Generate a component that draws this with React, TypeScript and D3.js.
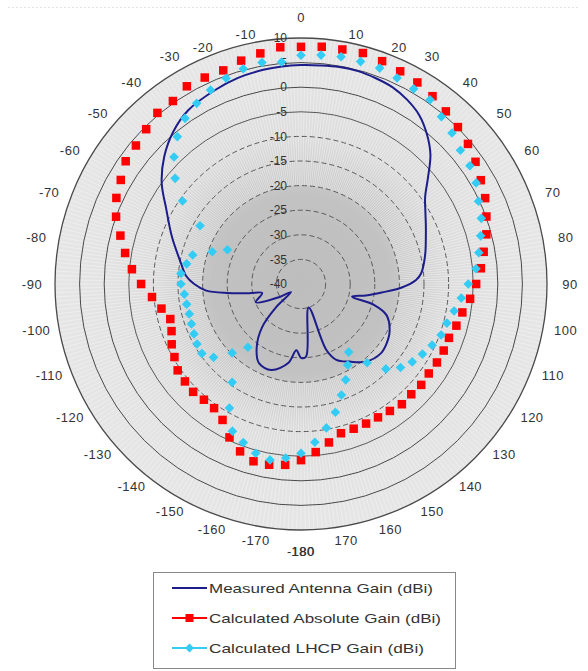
import React, { useEffect, useRef } from "react";
import * as d3 from "d3";

// ---------- DATA ----------
const angleLabels = [
  "0", "10", "20", "30", "40", "50", "60", "70", "80", "90", "100", "110", "120", "130", "140", "150", "160", "170",
  "180", "-170", "-160", "-150", "-140", "-130", "-120", "-110", "-100", "-90", "-80", "-70", "-60", "-50", "-40", "-30", "-20", "-10",
];
const radialTicks = [10, 5, 0, -5, -10, -15, -20, -25, -30, -35, -40];

// Measured antenna gain (dBi), angle in degrees clockwise from 0
const measuredAngles = [
  0, 5, 10, 15, 20, 25, 30, 35, 40, 45, 50, 55, 60, 65, 70, 75, 80, 85, 88, 92, 96, 100, 104, 106, 110, 118, 125, 131,
  140, 148, 155, 159, 162, 176, 180, 184, 189, 199, 208, 215, 222, 227, 231, 239, 248, 257, 260, 263, 266, 270, 274,
  280, 290, 299, 306, 313, 320, 327, 336, 343, 350, 355,
];
const measuredGain = [
  4.5, 4.6, 4.8, 4.8, 4.5, 4.1, 3.2, 1.9, -0.2, -2.8, -6.3, -9.2, -10.8, -12.0, -13.0, -13.8, -14.6, -15.5, -16.6, -19.5,
  -23.5, -26.6, -29.3, -24.5, -21.5, -19.6, -18.8, -18.5, -19.4, -21.4, -23.0, -25.7, -35.0, -25.2, -25.0, -26.5, -23.8,
  -21.5, -21.8, -24.3, -28.2, -33.1, -37.4, -34.8, -30.1, -31.9, -29.3, -25.0, -20.7, -18.3, -16.6, -15.2, -12.1, -8.7,
  -5.0, -2.0, 0.4, 2.1, 3.1, 3.8, 4.2, 4.4,
];

// Calculated series: every 5 degrees
const calcAngles = [
  0, 5, 10, 15, 20, 25, 30, 35, 40, 45, 50, 55, 60, 65, 70, 75, 80, 85, 90, 95, 100, 105, 110, 115, 120, 125, 130, 135,
  140, 145, 150, 155, 160, 165, 170, 175, 180, 185, 190, 195, 200, 205, 210, 215, 220, 225, 230, 235, 240, 245, 250, 255,
  260, 265, 270, 275, 280, 285, 290, 295, 300, 305, 310, 315, 320, 325, 330, 335, 340, 345, 350, 355,
];
const absoluteGain = [
  8.2, 8.4, 8.4, 8.6, 8.2, 7.7, 7.3, 6.6, 5.8, 5.1, 4.3, 3.3, 2.2, 1.3, 0.1, -1.0, -2.3, -3.3, -4.4, -5.5, -6.7, -7.3,
  -8.0, -8.0, -8.1, -8.3, -8.1, -8.3, -8.1, -8.5, -8.7, -8.7, -8.7, -8.6, -7.3, -5.7, -4.2, -3.1, -2.7, -2.7, -3.8, -5.6,
  -8.1, -9.2, -9.3, -9.0, -9.2, -9.4, -10.3, -11.0, -12.0, -12.5, -11.2, -9.6, -7.5, -5.5, -3.7, -2.0, 0.0, 1.4, 2.3,
  3.5, 3.8, 4.5, 5.4, 5.4, 6.4, 6.3, 6.2, 7.0, 7.6, 8.3,
];
const lhcpGain = [
  6.5, 6.7, 6.9, 6.8, 6.7, 6.2, 5.8, 5.7, 4.4, 3.4, 2.3, 1.9, 1.1, -0.2, -1.0, -2.2, -3.3, -4.3, -6.0, -7.3, -8.4, -9.3,
  -9.7, -10.6, -11.5, -12.4, -13.6, -15.6, -19.1, -23.1, -21.0, -18.5, -16.0, -13.0, -10.3, -7.7, -5.6, -4.5, -3.7, -4.4,
  -5.7, -7.0, -10.9, -15.6, -23.2, -20.2, -16.8, -15.4, -15.6, -16.0, -16.3, -16.5, -16.4, -16.2, -15.6, -15.5, -16.4,
  -17.2, -20.8, -23.5, -16.3, -10.6, -6.6, -3.5, -0.9, 1.1, 2.4, 3.5, 4.5, 5.3, 5.7, 5.3,
];

const legendNames = [
  "Measured Antenna Gain (dBi)",
  "Calculated Absolute Gain (dBi)",
  "Calculated LHCP Gain (dBi)",
];

// ---------- CHART ----------
const W = 588;
const H = 671;
const cx = 301;
const cy = 284;
const R = 246;
const FONT = "'Liberation Sans', Arial, sans-serif";
const NAVY = "#1c1c8a";
const RED = "#ff0000";
const CYAN = "#33ccf5";

export default function App() {
  const ref = useRef<SVGSVGElement>(null);

  useEffect(() => {
    const svg = d3.select(ref.current);
    svg.selectAll("*").remove();

    const r = d3.scaleLinear().domain([-40, 10]).range([0, R]);
    const rad = (d: number) => (d * Math.PI) / 180;
    const px = (deg: number, v: number) => cx + r(v) * Math.sin(rad(deg));
    const py = (deg: number, v: number) => cy - r(v) * Math.cos(rad(deg));

    // faint dotted line at the top
    svg.append("line").attr("x1", 8).attr("x2", 580).attr("y1", 7.5).attr("y2", 7.5)
      .attr("stroke", "#e4e4e4").attr("stroke-dasharray", "2,2");

    // plot disc with radial shading (dense spokes converge toward centre)
    const defs = svg.append("defs");
    const grad = defs.append("radialGradient").attr("id", "discGrad")
      .attr("cx", cx).attr("cy", cy).attr("r", R).attr("gradientUnits", "userSpaceOnUse");
    [
      [0, "#bdbdbd"], [0.36, "#c2c2c2"], [0.48, "#cfcfcf"], [0.6, "#dcdcdc"], [0.8, "#e3e3e3"], [1, "#e6e6e6"],
    ].forEach(([o, c]) => grad.append("stop").attr("offset", o as number).attr("stop-color", c as string));
    svg.append("circle").attr("cx", cx).attr("cy", cy).attr("r", R).attr("fill", "url(#discGrad)");

    // spokes (one per degree category) giving the fine texture
    const spokeAngles = d3.range(0, 360, 1);
    svg.append("g").selectAll("line").data(spokeAngles).join("line")
      .attr("x1", (d) => cx + R * 0.4 * Math.sin(rad(d))).attr("y1", (d) => cy - R * 0.4 * Math.cos(rad(d)))
      .attr("x2", (d) => px(d, 10)).attr("y2", (d) => py(d, 10))
      .attr("stroke", "#f6f6f6").attr("stroke-opacity", 0.75).attr("stroke-width", 0.7);

    // rings
    const ringVals = radialTicks.filter((v) => v > -40);
    svg.append("g").selectAll("circle").data(ringVals).join("circle")
      .attr("cx", cx).attr("cy", cy).attr("r", (d) => r(d))
      .attr("fill", "none")
      .attr("stroke", (d) => (d >= 0 ? "#4a4a4a" : "#5a5a5a"))
      .attr("stroke-width", (d) => (d === 10 ? 1.3 : 1))
      .attr("stroke-dasharray", (d) => (d >= -5 ? null : "5,3"));

    // angle labels
    const lg = svg.append("g").attr("font-family", FONT).attr("font-size", 13).attr("fill", "#333");
    angleLabels.forEach((t, i) => {
      const deg = i * 10;
      const s = Math.sin(rad(deg));
      let d = R + 14 + 9 * s * s;
      let a = deg;
      if (deg === 0 || deg === 180) d += 7;
      if (deg === 10 || deg === 20) { a += 2.5; d -= 5; }
      if (deg === 340 || deg === 350) { a -= 2.5; d -= 5; }
      const x = cx + d * Math.sin(rad(a));
      const y = cy - d * Math.cos(rad(a));
      if (t === "180") {
        lg.append("text").attr("x", x).attr("y", y).attr("dy", "0.35em").attr("text-anchor", "middle")
          .attr("letter-spacing", 0.5).text("-180");
        lg.append("text").attr("x", x + 13.5).attr("y", y).attr("dy", "0.35em").attr("text-anchor", "end")
          .attr("letter-spacing", 0.5).text("180");
      } else {
        lg.append("text").attr("x", x).attr("y", y).attr("dy", "0.35em").attr("text-anchor", "middle")
          .attr("letter-spacing", 0.5).text(t);
      }
    });

    // radial axis labels
    const rg = svg.append("g").attr("font-family", FONT).attr("font-size", 12).attr("fill", "#333");
    rg.selectAll("text").data(radialTicks).join("text")
      .attr("x", cx - 14).attr("y", (d) => cy - r(d)).attr("dy", "0.35em")
      .attr("text-anchor", "end").text((d) => String(d));

    // measured line
    const line = d3.lineRadial<number>()
      .angle((_, i) => rad(measuredAngles[i]))
      .radius((d) => r(d))
      .curve(d3.curveCatmullRomClosed.alpha(0.5));
    svg.append("path").attr("transform", `translate(${cx},${cy})`)
      .attr("d", line(measuredGain) as string)
      .attr("fill", "none").attr("stroke", NAVY).attr("stroke-width", 2);

    // absolute gain squares
    const sq = 8.5;
    svg.append("g").selectAll("rect").data(absoluteGain).join("rect")
      .attr("x", (d, i) => px(calcAngles[i], d) - sq / 2)
      .attr("y", (d, i) => py(calcAngles[i], d) - sq / 2)
      .attr("width", sq).attr("height", sq).attr("fill", RED);

    // LHCP diamonds
    const dm = 4.8;
    svg.append("g").selectAll("path").data(lhcpGain).join("path")
      .attr("d", (d, i) => {
        const x = px(calcAngles[i], d);
        const y = py(calcAngles[i], d);
        return `M${x},${y - dm}L${x + dm},${y}L${x},${y + dm}L${x - dm},${y}Z`;
      })
      .attr("fill", CYAN);

    // legend
    const leg = svg.append("g").attr("font-family", FONT).attr("font-size", 13).attr("fill", "#333");
    leg.append("rect").attr("x", 153.5).attr("y", 572.5).attr("width", 302).attr("height", 96)
      .attr("fill", "#fff").attr("stroke", "#888");
    const rowY = [588, 618, 648];
    const textW = [224, 232, 215];
    const colors = [NAVY, RED, CYAN];
    legendNames.forEach((name, i) => {
      const y = rowY[i];
      leg.append("line").attr("x1", 172).attr("x2", 207).attr("y1", y).attr("y2", y)
        .attr("stroke", colors[i]).attr("stroke-width", 2);
      if (i === 1) {
        leg.append("rect").attr("x", 189.5 - 4).attr("y", y - 4).attr("width", 8).attr("height", 8).attr("fill", RED);
      }
      if (i === 2) {
        leg.append("path").attr("d", `M189.5,${y - 4.5}L194,${y}L189.5,${y + 4.5}L185,${y}Z`).attr("fill", CYAN);
      }
      leg.append("text").attr("x", 209).attr("y", y).attr("dy", "0.35em")
        .attr("textLength", textW[i]).attr("lengthAdjust", "spacingAndGlyphs").text(name);
    });
  }, []);

  return (
    <svg
      ref={ref}
      width={W}
      height={H}
      style={{ position: "absolute", left: 0, top: 0, background: "#fff" }}
    />
  );
}
